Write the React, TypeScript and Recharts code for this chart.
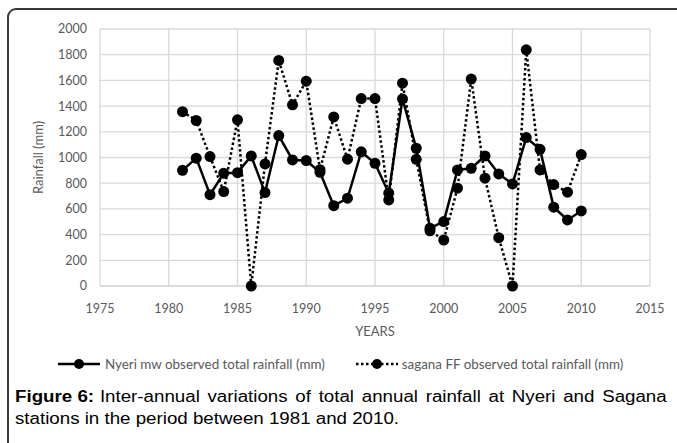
import React from 'react';
import { LineChart, Line, XAxis, YAxis, CartesianGrid, Label } from 'recharts';

const years = [1981, 1982, 1983, 1984, 1985, 1986, 1987, 1988, 1989, 1990, 1991, 1992, 1993, 1994, 1995, 1996, 1997, 1998, 1999, 2000, 2001, 2002, 2003, 2004, 2005, 2006, 2007, 2008, 2009, 2010];
const nyeri = [900, 995, 711, 878, 882, 1012, 727, 1171, 981, 976, 885, 625, 683, 1044, 955, 722, 1456, 1072, 450, 501, 903, 916, 1012, 872, 794, 1155, 1064, 613, 514, 584];
const sagana = [1357, 1288, 1007, 735, 1293, 0, 950, 1755, 1410, 1594, 905, 1316, 987, 1459, 1459, 670, 1578, 986, 430, 358, 761, 1610, 839, 376, 0, 1838, 903, 789, 730, 1023];
const xTicks = [1975, 1980, 1985, 1990, 1995, 2000, 2005, 2010, 2015];
const yTicks = [0, 200, 400, 600, 800, 1000, 1200, 1400, 1600, 1800, 2000];
const nyeriName = 'Nyeri mw observed total rainfall (mm)';
const saganaName = 'sagana FF observed total rainfall (mm)';
const captionLabel = 'Figure 6:';
const captionLine1 = 'Inter-annual variations of total annual rainfall at Nyeri and Sagana';
const captionLine2 = 'stations in the period between 1981 and 2010.';

const data = years.map((y, i) => ({ year: y, nyeri: nyeri[i], sagana: sagana[i] }));

const FONT = 'Lato, "Open Sans", sans-serif';
const GRAY = '#595959';
const DOTTED = '2.5 2.5';
const CAP_STYLE: React.CSSProperties = {
  position: 'absolute',
  left: 15,
  width: 557,
  height: 22,
  fontFamily: '"Liberation Sans", Arial, sans-serif',
  fontSize: 16,
  lineHeight: '22px',
  color: '#000',
  whiteSpace: 'nowrap',
  transform: 'scaleX(1.17)',
  transformOrigin: '0 0',
};

export default function App() {
  return (
    <div style={{ position: 'absolute', left: 0, top: 0, width: 677, height: 443, overflow: 'hidden', background: '#fff' }}>
      <div style={{ position: 'absolute', left: 7, top: 8, width: 720, height: 480, border: '2px solid #3a3a3a', borderRadius: 9, boxSizing: 'border-box' }} />
      <div style={{ position: 'absolute', left: 0, top: 0 }}>
        <LineChart width={677} height={345} data={data} margin={{ top: 29, right: 27, left: 0, bottom: 0 }}>
          <CartesianGrid stroke="#d9d9d9" strokeWidth={1.3} horizontal vertical />
          <XAxis
            dataKey="year"
            type="number"
            domain={[1975, 2015]}
            ticks={xTicks}
            interval={0}
            axisLine={{ stroke: '#d9d9d9', strokeWidth: 1.3 }}
            tickLine={false}
            tickSize={0}
            tickMargin={18}
            height={59}
            tick={{ fill: GRAY, fontSize: 12.5, fontFamily: FONT }}
          >
            <Label
              content={(props: any) => {
                const vb = props.viewBox;
                return (
                  <text x={vb.x + vb.width / 2} y={vb.y + 50} textAnchor="middle" fill={GRAY} fontSize={13} fontFamily={FONT}>
                    YEARS
                  </text>
                );
              }}
            />
          </XAxis>
          <YAxis
            type="number"
            domain={[0, 2000]}
            ticks={yTicks}
            interval={0}
            width={100}
            axisLine={false}
            tickLine={false}
            tickSize={0}
            tickMargin={13}
            tick={{ fill: GRAY, fontSize: 12.5, fontFamily: FONT }}
          >
            <Label
              content={(props: any) => {
                const vb = props.viewBox;
                const cx = vb.x + 38;
                const cy = vb.y + vb.height / 2;
                return (
                  <text x={cx} y={cy} transform={`rotate(-90 ${cx} ${cy})`} textAnchor="middle" dominantBaseline="central" fill={GRAY} fontSize={13} fontFamily={FONT}>
                    Rainfall (mm)
                  </text>
                );
              }}
            />
          </YAxis>
          <Line
            dataKey="sagana"
            name={saganaName}
            stroke="#000"
            strokeWidth={2.5}
            strokeDasharray={DOTTED}
            dot={{ r: 5.5, fill: '#000', stroke: '#000', strokeWidth: 0, strokeDasharray: '' }}
            isAnimationActive={false}
          />
          <Line
            dataKey="nyeri"
            name={nyeriName}
            stroke="#000"
            strokeWidth={2.5}
            dot={{ r: 5.5, fill: '#000', stroke: '#000', strokeWidth: 0 }}
            isAnimationActive={false}
          />
        </LineChart>
      </div>
      <div style={{ position: 'absolute', left: 58, top: 356, display: 'flex', alignItems: 'center', fontFamily: FONT, fontSize: 13.4, color: GRAY, whiteSpace: 'nowrap' }}>
        <svg width={42} height={14} style={{ display: 'block' }}>
          <line x1={0} y1={7} x2={42} y2={7} stroke="#000" strokeWidth={2.5} />
          <circle cx={21} cy={7} r={5} fill="#000" />
        </svg>
        <span style={{ marginLeft: 5 }}>{nyeriName}</span>
        <svg width={42} height={14} style={{ display: 'block', marginLeft: 31 }}>
          <line x1={0} y1={7} x2={42} y2={7} stroke="#000" strokeWidth={2.5} strokeDasharray={DOTTED} />
          <circle cx={21} cy={7} r={5} fill="#000" />
        </svg>
        <span style={{ marginLeft: 4 }}>{saganaName}</span>
      </div>
      <div style={{ ...CAP_STYLE, top: 386, display: 'flex', justifyContent: 'space-between' }}>
        <span style={{ fontWeight: 'bold' }}>{captionLabel}</span>
        <span style={{ flex: 1, marginLeft: 5, textAlign: 'justify', textAlignLast: 'justify' }}>{captionLine1}</span>
      </div>
      <div style={{ ...CAP_STYLE, top: 408 }}>{captionLine2}</div>
    </div>
  );
}
